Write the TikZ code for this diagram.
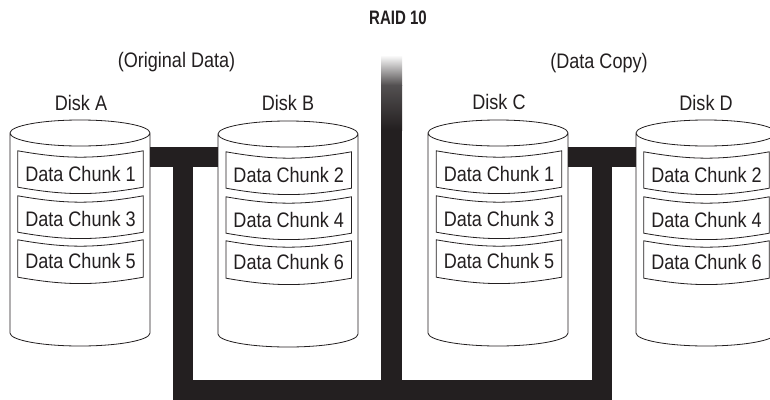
\documentclass[tikz,border=0pt]{standalone}
\usepackage{fontspec}
\setmainfont[FakeStretch=0.86]{Liberation Sans}
\newfontfamily\titlefont[FakeStretch=0.77]{Liberation Sans}
\usetikzlibrary{shapes.geometric}
\definecolor{inkblack}{HTML}{231F20}
\tikzset{
  disk/.style={draw=inkblack,line width=0.8pt,fill=white,cylinder,shape border rotate=90,aspect=0.65,
    minimum width=140pt,minimum height=226pt,inner sep=20pt,anchor=shape center},
  chunk/.style={text=inkblack,font=\fontsize{21}{24}\selectfont,minimum width=125pt,inner xsep=0pt,inner ysep=0pt,
    text height=30.5pt,text depth=5.5pt},
  chunklow/.style={chunk,text height=28pt,text depth=9pt},
  caption/.style={text=inkblack,font=\fontsize{21}{24}\selectfont,inner sep=0pt},
  title/.style={text=inkblack,font=\fontsize{19.5}{22}\titlefont\bfseries,inner sep=0pt},
  bus/.style={draw=inkblack,line width=20pt}
}

\begin{document}
\begin{tikzpicture}[x=1pt,y=-1pt]
    \useasboundingbox (0,0) rectangle (770,399);
    \clip (0,0) rectangle (770,399);
    \fill[white] (0,0) rectangle (770,399);

    \node[title] (raid) at (398,18) {RAID 10};
    \node[caption] (orig) at (176.5,62) {(Original Data)};
    \node[caption] (copy) at (599,63) {(Data Copy)};

    \node[disk] (diskA) at (80,233) {};
    \node[disk] (diskB) at (288,234) {};
    \node[disk] (diskC) at (498,233) {};
    \node[disk] (diskD) at (706,233) {};

    \node[caption] (nameA) at (81,103) {Disk A};
    \node[caption] (nameB) at (288,103) {Disk B};
    \node[caption] (nameC) at (499,102) {Disk C};
    \node[caption] (nameD) at (706,103) {Disk D};

    \node[chunk] (a1) at (80.5,169) {Data Chunk 1};
    \node[chunk] (a2) at (80.5,214) {Data Chunk 3};
    \node[chunklow] (a3) at (80.5,258.5) {Data Chunk 5};
    \node[chunk] (b1) at (288.7,170) {Data Chunk 2};
    \node[chunk] (b2) at (288.7,215) {Data Chunk 4};
    \node[chunklow] (b3) at (288.7,259.5) {Data Chunk 6};
    \node[chunk] (c1) at (499,169) {Data Chunk 1};
    \node[chunk] (c2) at (499,214) {Data Chunk 3};
    \node[chunklow] (c3) at (499,258.5) {Data Chunk 5};
    \node[chunk] (d1) at (706.5,170) {Data Chunk 2};
    \node[chunk] (d2) at (706.5,215) {Data Chunk 4};
    \node[chunklow] (d3) at (706.5,259.5) {Data Chunk 6};

    \foreach \c in {a1,a2,a3,b1,b2,b3,c1,c2,c3,d1,d2,d3}
      \draw[inkblack,line width=0.8pt] (\c.north west) to[bend right=10] (\c.north east)
        -- (\c.south east) to[bend left=10] (\c.south west) -- cycle;

    \coordinate (busAB) at (183,157);
    \coordinate (busCD) at (602,157);
    \coordinate (busLow) at (391.5,390);
    \coordinate (mast) at (391.5,130);

    \draw[bus] (diskA.east |- busAB) -- (diskB.west |- busAB);
    \draw[bus] (diskC.east |- busCD) -- (diskD.west |- busCD);
    \draw[bus] (busAB) |- (busLow) -| (busCD);
    \draw[bus,line width=21pt] (mast) -- (busLow);

    \shade[top color=white,bottom color=inkblack!78] (381,55) rectangle (402,85);
    \shade[top color=inkblack!78,bottom color=inkblack] (381,85) rectangle (402,130);
  \end{tikzpicture}
\end{document}
